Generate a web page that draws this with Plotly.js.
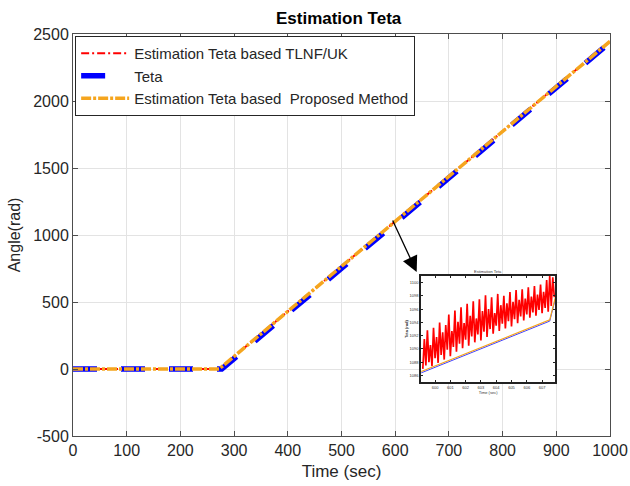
<!DOCTYPE html>
<html>
<head>
<meta charset="utf-8">
<script src="https://cdn.plot.ly/plotly-3.0.1.min.js"></script>
<style>html,body{margin:0;padding:0;background:#fff;}#chart{width:630px;height:486px;}</style>
</head>
<body>
<div id="chart"></div>
<script>
// Main chart data
const timeTeta = [0, 277, 1000];
const teta = [0, 0, 2437];
const timeEst = [0, 272, 1000];
const estTLNF = [0, 0, 2445];
const estProposed = [0, 0, 2445];

const xTicks = [0, 100, 200, 300, 400, 500, 600, 700, 800, 900, 1000];
const yTicks = [-500, 0, 500, 1000, 1500, 2000, 2500];

// Zoomed inset data (around t = 600 s)
const insetTime = [599.2,599.3,599.4,599.5,599.6,599.7,599.8,599.9,600.0,600.1,600.2,600.3,600.4,600.5,600.6,600.7,600.8,600.9,601.0,601.1,601.2,601.3,601.4,601.5,601.6,601.7,601.8,601.9,602.0,602.1,602.2,602.3,602.4,602.5,602.6,602.7,602.8,602.9,603.0,603.1,603.2,603.3,603.4,603.5,603.6,603.7,603.8,603.9,604.0,604.1,604.2,604.3,604.4,604.5,604.6,604.7,604.8,604.9,605.0,605.1,605.2,605.3,605.4,605.5,605.6,605.7,605.8,605.9,606.0,606.1,606.2,606.3,606.4,606.5,606.6,606.7,606.8,606.9,607.0,607.1,607.2,607.3,607.4,607.5,607.6,607.7,607.8];
const insetTLNF = [1087.0,1091.5,1087.5,1092.8,1088.0,1090.6,1087.4,1093.2,1088.6,1091.8,1087.9,1094.0,1089.1,1092.5,1088.4,1093.6,1089.9,1095.2,1088.9,1092.7,1090.3,1095.8,1089.6,1094.1,1090.8,1096.3,1090.1,1093.9,1091.4,1096.8,1090.5,1095.0,1091.9,1097.2,1091.0,1094.6,1092.2,1097.5,1091.3,1095.7,1092.6,1098.1,1091.8,1096.0,1093.0,1097.8,1092.3,1095.4,1093.5,1098.3,1092.7,1096.6,1093.8,1098.0,1093.1,1096.9,1094.2,1098.6,1093.4,1097.1,1094.5,1098.9,1093.9,1097.4,1094.9,1099.0,1094.3,1097.6,1095.2,1099.3,1094.7,1097.9,1095.5,1099.5,1095.0,1098.2,1095.9,1099.7,1095.4,1098.6,1096.2,1100.4,1095.6,1101.0,1096.5,1100.8,1097.8];
const insetBaseTime = [599.1, 603.0, 607.5, 607.86];
const insetTeta = [1086.4, 1090.0, 1094.2, 1097.5];
const insetProposed = [1086.6, 1090.2, 1094.4, 1097.7];
const insetXTicks = [600, 601, 602, 603, 604, 605, 606, 607];
const insetYTicks = [1086, 1088, 1090, 1092, 1094, 1096, 1098, 1100];
const insetXRange = [599.08, 607.86];
const insetYRange = [1085, 1101];

const legendNames = ['Estimation Teta based TLNF/UK', 'Teta', 'Estimation Teta based  Proposed Method'];

const txt = '#262626';
const font = 'Liberation Sans, Arial, sans-serif';

const traces = [
  {x: timeEst, y: estTLNF, mode: 'lines', name: legendNames[0],
   line: {color: '#ff0000', width: 2, dash: '8px,3px,2px,3px'}},
  {x: timeTeta, y: teta, mode: 'lines', name: legendNames[1],
   line: {color: '#0000ff', width: 5.5, dash: '24px,24px'}},
  {x: timeEst, y: estProposed, mode: 'lines', name: legendNames[2],
   line: {color: '#f5a51e', width: 3.5, dash: '10px,2px,3px,2px'}},
  // inset traces
  {x: insetTime, y: insetTLNF, mode: 'lines', xaxis: 'x2', yaxis: 'y2', showlegend: false,
   line: {color: '#ff0000', width: 1.7}},
  {x: insetBaseTime, y: insetTeta, mode: 'lines', xaxis: 'x2', yaxis: 'y2', showlegend: false,
   line: {color: '#4040ff', width: 1}},
  {x: insetBaseTime, y: insetProposed, mode: 'lines', xaxis: 'x2', yaxis: 'y2', showlegend: false,
   line: {color: '#f5a51e', width: 1.2}}
];

const axisCommon = {
  showline: true, linecolor: '#4d4d4d', linewidth: 1, mirror: 'ticks',
  ticks: 'inside', ticklen: 5, tickcolor: '#4d4d4d', tickwidth: 1,
  showgrid: true, gridcolor: '#e3e3e3', gridwidth: 1, zeroline: false,
  tickfont: {family: font, size: 16, color: txt}, automargin: false
};

const insetAxis = {
  showline: true, linecolor: '#222', linewidth: 1.5, mirror: 'ticks',
  ticks: 'inside', ticklen: 2, tickcolor: '#222', tickwidth: 0.5,
  showgrid: true, gridcolor: '#d8d8d8', gridwidth: 0.7, zeroline: false,
  tickfont: {family: font, size: 4, color: '#333'}, automargin: false
};

const layout = {
  width: 630, height: 486,
  margin: {l: 73, r: 20, t: 34, b: 50},
  paper_bgcolor: '#ffffff', plot_bgcolor: '#ffffff',
  title: {text: '<b>Estimation Teta</b>', font: {family: font, size: 17, color: '#000'},
          x: 0.5375, xanchor: 'center', y: 0.963, yanchor: 'middle'},
  xaxis: Object.assign({}, axisCommon, {
    range: [0, 1000], tickvals: xTicks, ticktext: xTicks.map(String), domain: [0, 1],
    title: {text: 'Time (sec)', font: {family: font, size: 17, color: txt}, standoff: 6}
  }),
  yaxis: Object.assign({}, axisCommon, {
    range: [-500, 2500], tickvals: yTicks, ticktext: yTicks.map(String), domain: [0, 1],
    title: {text: 'Angle(rad)', font: {family: font, size: 16, color: txt}, standoff: 8}
  }),
  xaxis2: Object.assign({}, insetAxis, {
    anchor: 'y2', domain: [0.648, 0.898], range: insetXRange,
    tickvals: insetXTicks, ticktext: insetXTicks.map(String),
    title: {text: 'Time (sec)', font: {family: font, size: 4, color: '#333'}, standoff: 1}
  }),
  yaxis2: Object.assign({}, insetAxis, {
    anchor: 'x2', domain: [0.134, 0.398], range: insetYRange,
    tickvals: insetYTicks, ticktext: insetYTicks.map(String),
    title: {text: '<b>Teta (rad)</b>', font: {family: font, size: 4, color: '#333'}, standoff: 1}
  }),
  shapes: [
    {type: 'rect', xref: 'x2', yref: 'y2', x0: insetXRange[0], x1: insetXRange[1],
     y0: insetYRange[0], y1: insetYRange[1],
     fillcolor: '#ffffff', line: {width: 0}, layer: 'between'}
  ],
  annotations: [
    {x: 640, y: 724, ax: 594, ay: 1119, xref: 'x', yref: 'y', axref: 'x', ayref: 'y',
     text: '', showarrow: true, arrowhead: 2, arrowsize: 2.4, arrowwidth: 1.3,
     arrowcolor: '#000000', standoff: 0},
    {x: 603.47, y: 1101, xref: 'x2', yref: 'y2', yanchor: 'bottom', showarrow: false,
     text: 'Estimation Teta', font: {family: font, size: 4, color: '#333'}}
  ],
  legend: {
    x: 0.004, y: 0.995, xanchor: 'left', yanchor: 'top',
    bgcolor: '#ffffff', bordercolor: '#262626', borderwidth: 1,
    font: {family: font, size: 15, color: txt}, itemwidth: 48, tracegroupgap: 0
  },
  showlegend: true
};

Plotly.newPlot('chart', traces, layout, {displayModeBar: false});
</script>
</body>
</html>
